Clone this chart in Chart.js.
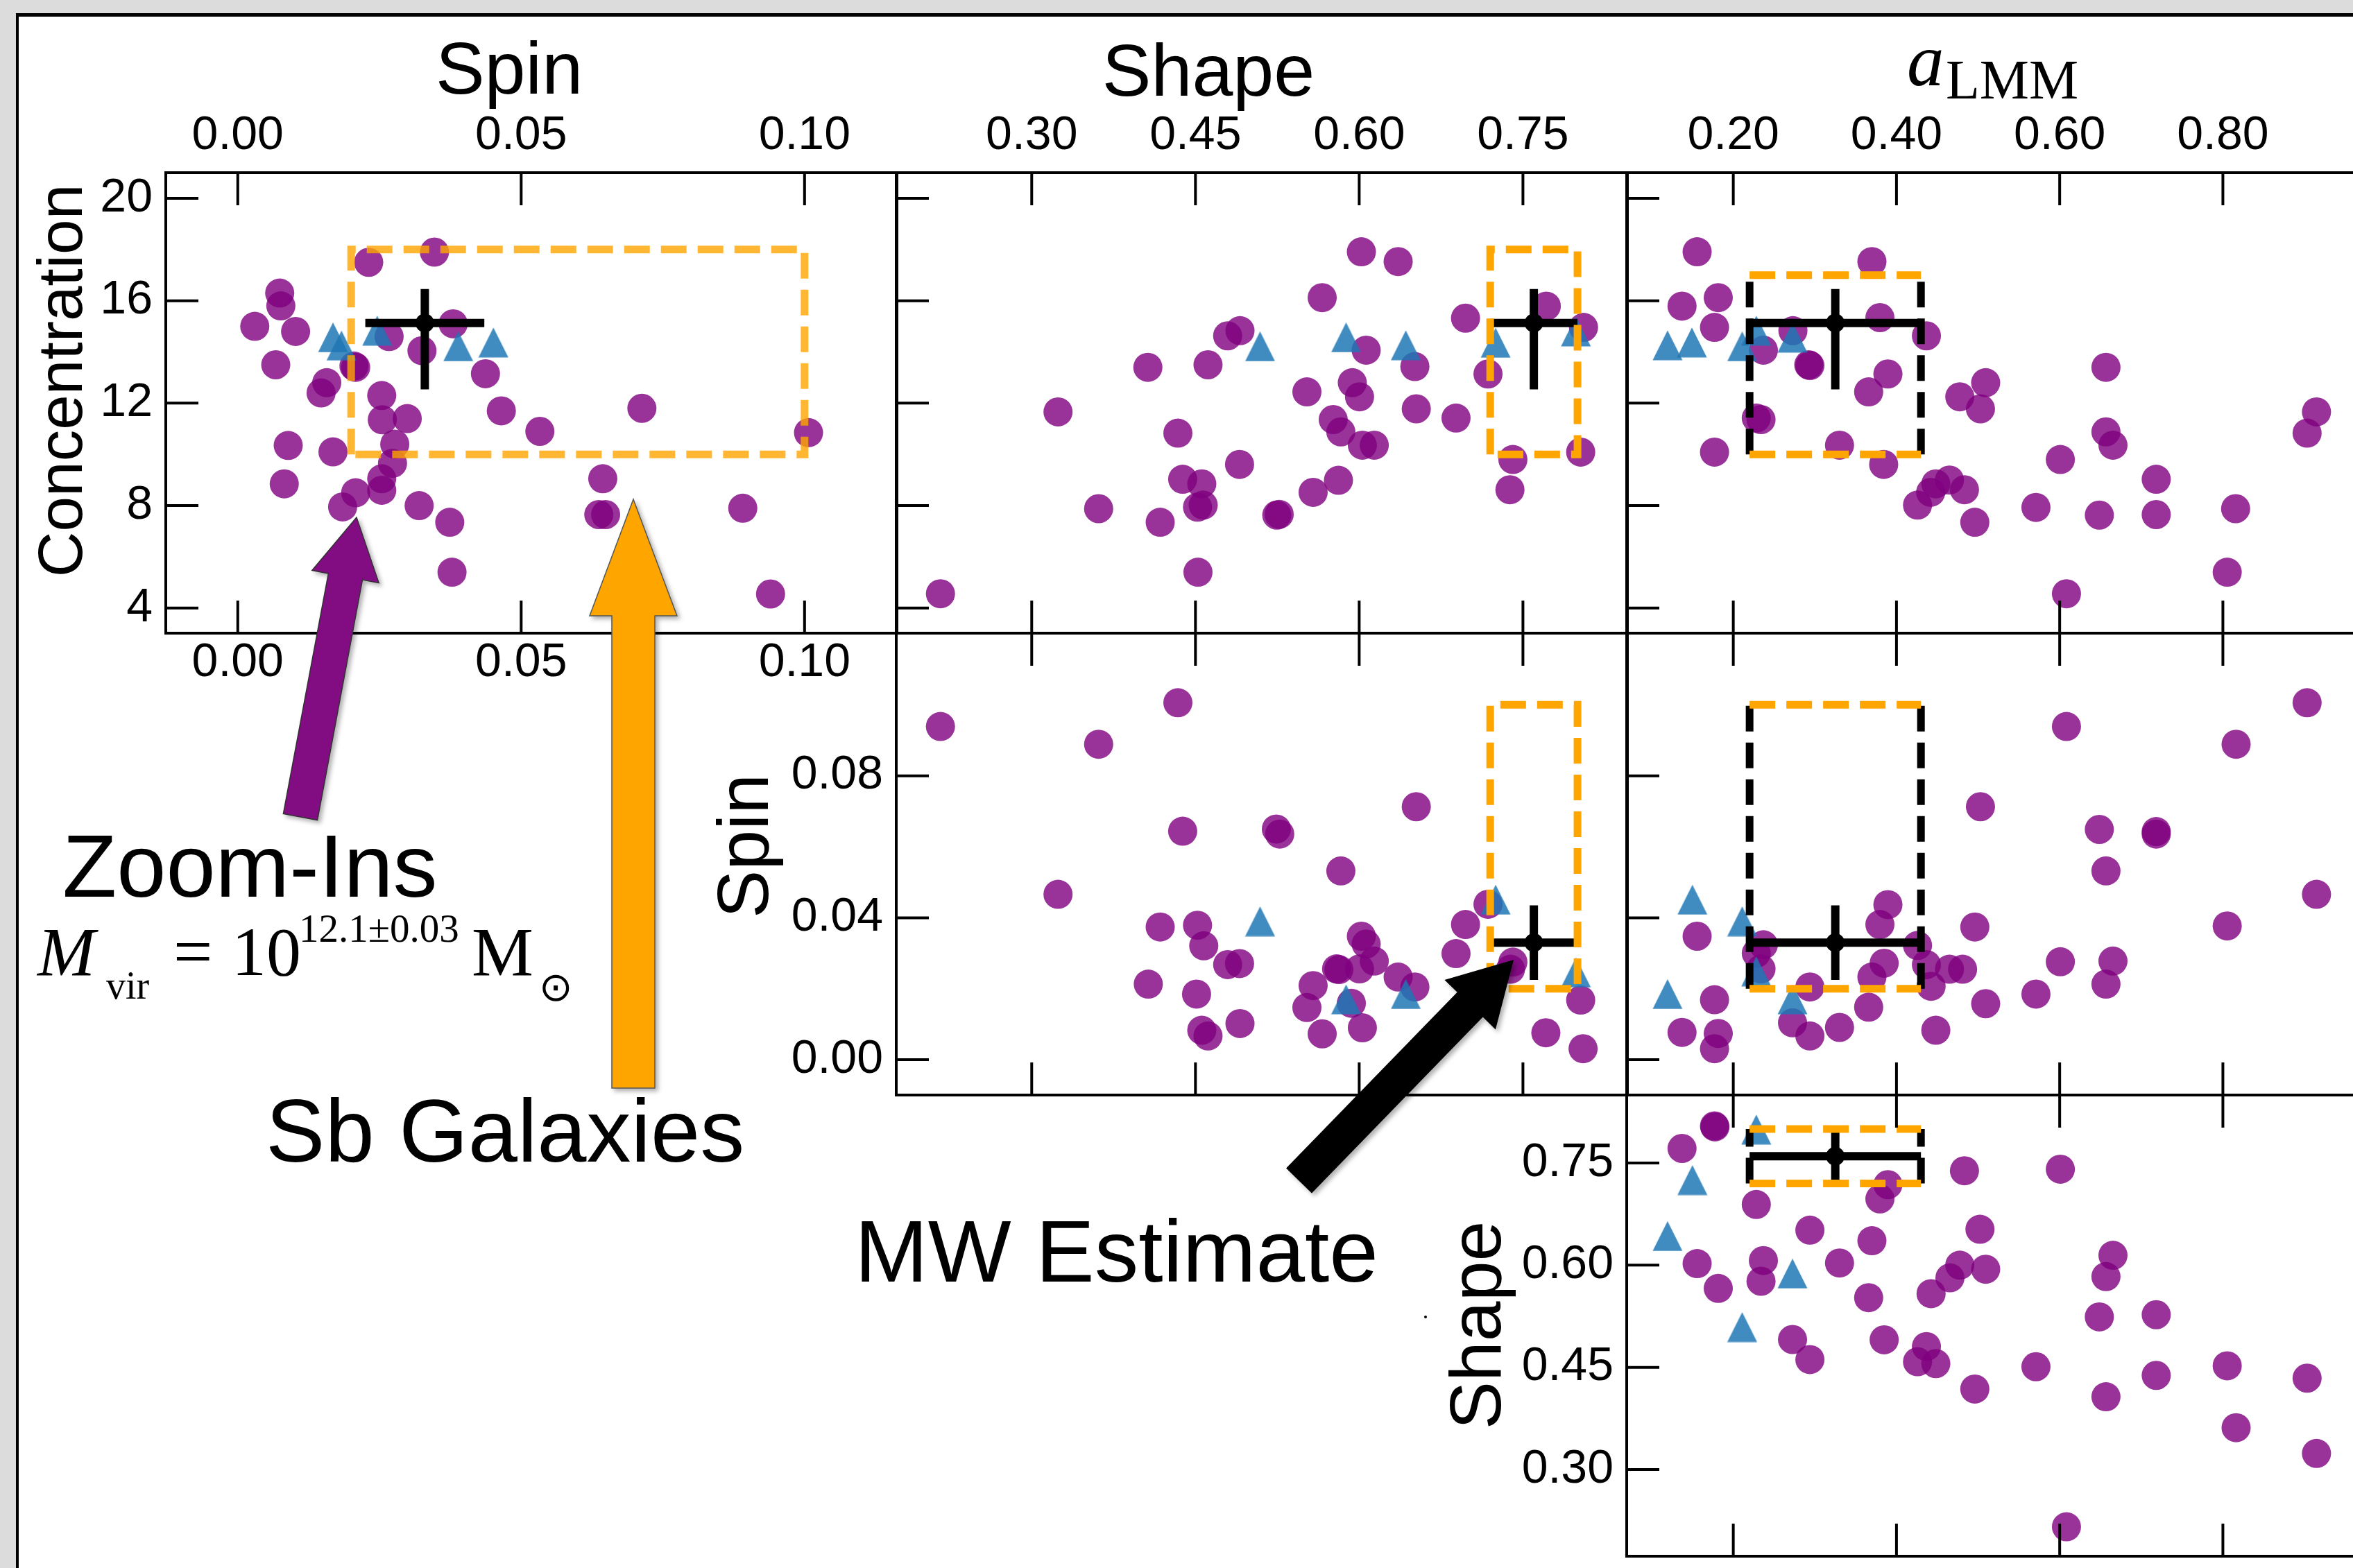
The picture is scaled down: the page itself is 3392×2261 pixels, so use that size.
<!DOCTYPE html>
<html>
<head>
<meta charset="utf-8">
<script src="https://cdn.jsdelivr.net/npm/chart.js"></script>
<style>
  html, body { margin: 0; padding: 0; }
  body { width: 3392px; height: 2261px; overflow: hidden; background: #dcdcdc; position: relative; }
  #sheet { position: absolute; left: 23px; top: 19px; width: 3400px; height: 2300px; background: #fff; border-left: 4px solid #000; border-top: 5px solid #000; }
  canvas { position: absolute; z-index: 1; }
  #overlay { position: absolute; left: 0; top: 0; z-index: 2; }
  #overlay text { font-family: 'Liberation Sans', Arial, sans-serif; fill: #000; }
  #overlay .serif { font-family: 'Liberation Serif', 'Times New Roman', serif; }
</style>
</head>
<body>
<div id="sheet"></div>
<svg id="overlay" width="3392" height="2261" xmlns="http://www.w3.org/2000/svg">
  <defs>
    <filter id="shadow" x="-30%" y="-30%" width="160%" height="160%">
      <feDropShadow dx="4" dy="4" stdDeviation="3" flood-color="#000" flood-opacity="0.3"/>
    </filter>
  </defs>
  <g id="arrows"></g>
  <!-- column titles -->
  <text x="734" y="135" font-size="106" text-anchor="middle">Spin</text>
  <text x="1742" y="138" font-size="106" text-anchor="middle">Shape</text>
  <text class="serif" x="2749" y="123" font-size="107" font-style="italic">a</text>
  <text class="serif" x="2805" y="142" font-size="80">LMM</text>
  <!-- row labels -->
  <text transform="translate(118,549) rotate(-90)" font-size="91" text-anchor="middle">Concentration</text>
  <text transform="translate(1107,1220) rotate(-90)" font-size="104" text-anchor="middle">Spin</text>
  <text transform="translate(2163,1911) rotate(-90)" font-size="104" text-anchor="middle">Shape</text>
  <!-- annotations -->
  <text x="90" y="1293" font-size="128">Zoom-Ins</text>
  <text class="serif" x="54" y="1406" font-size="100" font-style="italic">M</text>
  <text class="serif" x="153" y="1440" font-size="56">vir</text>
  <text class="serif" x="250" y="1406" font-size="100">=</text>
  <text class="serif" x="334" y="1406" font-size="100">10</text>
  <text class="serif" x="431" y="1358" font-size="57">12.1±0.03</text>
  <text class="serif" x="680" y="1406" font-size="100">M</text>
  <text x="777" y="1443" font-size="58" style="font-family:'DejaVu Sans'">⊙</text>
  <text x="383" y="1675" font-size="128">Sb Galaxies</text>
  <text x="1232" y="1848" font-size="127">MW Estimate</text>
  <circle cx="2055" cy="1899" r="2" fill="#000"/>
</svg>
<script>
// ---- data ----
// tick values
const spinTicks = [0.00, 0.05, 0.10]
const concTicks = [4, 8, 12, 16, 20]
const shapeTicks = [0.30, 0.45, 0.60, 0.75]
const almmTicks = [0.20, 0.40, 0.60, 0.80]
const spinYTicks = [0.00, 0.04, 0.08]
const shapeYTicks = [0.30, 0.45, 0.60, 0.75]

// Milky Way estimate: [value, error below, error above]
const mwSpin = [0.033, 0.0105, 0.0105]
const mwConc = [15.13, 2.59, 1.33]
const mwShape = [0.76, 0.04, 0.04]
const mwAlmm = [0.325, 0.105, 0.105]

// Sb galaxy ranges
const sbSpin = [0.02, 0.10]
const sbConc = [10, 18]
const sbShape = [0.72, 0.80]
const sbConcAlmm = [10, 17]

// zoom-in haloes (purple) and other haloes (blue), [x, y]
const concSpinZoom = [[0.0347,17.9],[0.0231,17.5],[0.0074,16.3],[0.0076,15.8],[0.0030,15.0],[0.0102,14.8],[0.0380,15.1],[0.0267,14.6],[0.0325,14.05],[0.0067,13.5],[0.0208,13.4],[0.0205,13.45],[0.0157,12.8],[0.0147,12.4],[0.0437,13.15],[0.0254,12.3],[0.0465,11.7],[0.0255,11.35],[0.0299,11.4],[0.0533,10.9],[0.0713,11.8],[0.1007,10.85],[0.0277,10.4],[0.0089,10.35],[0.0168,10.1],[0.0273,9.65],[0.0254,9.05],[0.0082,8.85],[0.0254,8.6],[0.0208,8.5],[0.0185,7.95],[0.0320,8.0],[0.0374,7.35],[0.0644,9.05],[0.0637,7.65],[0.0649,7.65],[0.0891,7.9],[0.0378,5.4],[0.0940,4.55]]
const concSpinOther = [[0.0168,14.57],[0.0183,14.25],[0.0246,14.83],[0.0389,14.22],[0.0451,14.37]]

const concShapeZoom = [[0.2164,4.56],[0.3241,11.66],[0.3613,7.88],[0.4064,13.4],[0.4177,7.35],[0.4339,10.83],[0.4383,9.03],[0.4558,8.85],[0.4519,7.94],[0.4571,8.02],[0.4523,5.4],[0.4615,13.5],[0.4795,14.63],[0.4908,14.83],[0.4904,9.61],[0.5245,7.63],[0.5267,7.66],[0.5521,12.44],[0.5578,8.52],[0.5661,16.12],[0.5762,11.36],[0.5832,10.88],[0.581,8.99],[0.5937,12.8],[0.6003,12.25],[0.6029,10.36],[0.6138,10.36],[0.602,17.91],[0.6357,17.53],[0.6064,14.07],[0.651,13.43],[0.6523,11.78],[0.6887,11.42],[0.6974,15.32],[0.718,13.14],[0.7408,9.8],[0.7381,8.62],[0.7714,15.79],[0.8055,14.96],[0.8029,10.09]]
const concShapeOther = [[0.5092,14.22],[0.588,14.57],[0.6427,14.26],[0.725,14.36],[0.7985,14.8]]

const concAlmmZoom = [[0.1557,17.91],[0.1372,15.79],[0.1816,16.12],[0.177,14.96],[0.177,10.09],[0.2369,14.07],[0.2731,14.83],[0.2939,13.47],[0.2925,13.5],[0.2282,11.42],[0.234,11.36],[0.3302,10.36],[0.3699,17.53],[0.3797,15.34],[0.3895,13.14],[0.3659,12.44],[0.3843,9.61],[0.4367,14.63],[0.4776,12.25],[0.5093,12.8],[0.5029,11.78],[0.4482,8.85],[0.4649,9.0],[0.4419,8.52],[0.4258,8.02],[0.4833,8.62],[0.496,7.35],[0.5709,7.93],[0.6008,9.8],[0.6567,13.4],[0.6567,10.88],[0.6653,10.36],[0.6486,7.63],[0.7183,9.03],[0.7183,7.65],[0.6083,4.56],[0.8156,7.88],[0.8053,5.4],[0.9147,11.66],[0.9032,10.83]]
const concAlmmOther = [[0.1194,14.26],[0.1493,14.37],[0.2109,14.22],[0.2282,14.83],[0.2726,14.56]]

const spinShapeZoom = [[0.2164,0.0939],[0.3613,0.0889],[0.4339,0.1006],[0.3241,0.0466],[0.4383,0.0644],[0.5241,0.065],[0.5272,0.0636],[0.6523,0.0713],[0.5832,0.0532],[0.4177,0.0374],[0.4519,0.0379],[0.4576,0.0321],[0.4795,0.0268],[0.4904,0.0271],[0.4068,0.0213],[0.451,0.0185],[0.4558,0.0083],[0.4615,0.0067],[0.4908,0.0102],[0.602,0.0348],[0.6064,0.0326],[0.5793,0.0256],[0.5814,0.0254],[0.6003,0.0256],[0.6138,0.0278],[0.5578,0.0209],[0.5521,0.0147],[0.5928,0.0159],[0.5661,0.0073],[0.6029,0.009],[0.6357,0.0233],[0.651,0.0205],[0.6974,0.0381],[0.6887,0.0299],[0.718,0.0438],[0.7408,0.0275],[0.7386,0.0255],[0.8029,0.0168],[0.771,0.0076],[0.8051,0.0031]]
const spinShapeOther = [[0.5092,0.039],[0.588,0.017],[0.6427,0.0185],[0.725,0.0451],[0.7985,0.0246]]

const spinAlmmZoom = [[0.6083,0.0939],[0.8162,0.0889],[0.9032,0.1006],[0.5029,0.0713],[0.6486,0.0649],[0.7183,0.0643],[0.7183,0.0636],[0.6567,0.0532],[0.9147,0.0466],[0.8053,0.0377],[0.3895,0.0437],[0.3797,0.0381],[0.496,0.0374],[0.1557,0.0348],[0.2369,0.0324],[0.2282,0.03],[0.234,0.0256],[0.4258,0.0322],[0.3849,0.0272],[0.3699,0.0233],[0.4367,0.0268],[0.4649,0.0255],[0.481,0.0255],[0.4424,0.0207],[0.6008,0.0276],[0.6653,0.0278],[0.6567,0.0213],[0.5709,0.0185],[0.5093,0.0158],[0.2939,0.0205],[0.3659,0.0148],[0.177,0.0169],[0.1372,0.0077],[0.1816,0.0074],[0.177,0.0031],[0.2726,0.0104],[0.2939,0.0067],[0.3302,0.0091],[0.4482,0.0083]]
const spinAlmmOther = [[0.1499,0.0451],[0.2109,0.039],[0.2282,0.0249],[0.1194,0.0185],[0.2726,0.017]]

const shapeAlmmZoom = [[0.177,0.8045],[0.1775,0.803],[0.1372,0.7714],[0.2282,0.6891],[0.3895,0.7182],[0.3797,0.6973],[0.4833,0.7386],[0.6008,0.7409],[0.2939,0.6514],[0.3699,0.6359],[0.5023,0.6527],[0.1557,0.6023],[0.2369,0.6068],[0.1816,0.5659],[0.234,0.5764],[0.3302,0.6032],[0.3659,0.5523],[0.4424,0.5582],[0.4776,0.6],[0.4655,0.5814],[0.5093,0.5941],[0.6653,0.6145],[0.6567,0.5832],[0.6486,0.5241],[0.7183,0.5273],[0.2726,0.4909],[0.2939,0.4614],[0.3849,0.4905],[0.4367,0.4805],[0.4258,0.4582],[0.4482,0.4555],[0.496,0.4182],[0.5709,0.4509],[0.7183,0.4382],[0.6567,0.4068],[0.8053,0.4523],[0.9032,0.4341],[0.8162,0.3614],[0.9147,0.3236],[0.6083,0.2159]]
const shapeAlmmOther = [[0.2282,0.7991],[0.1499,0.725],[0.1194,0.6427],[0.2726,0.5877],[0.2109,0.5091]]

// ---- axes ----
const axes = {
  spin:   { range: [-0.0127, 0.1163], ticks: spinTicks,   dec: 2, mw: mwSpin,  sb: sbSpin },
  conc:   { range: [3.02, 21.0],      ticks: concTicks,   dec: 0, mw: mwConc,  sb: sbConc },
  shape:  { range: [0.1759, 0.8457],  ticks: shapeTicks,  dec: 2, mw: mwShape, sb: sbShape },
  almm:   { range: [0.0694, 0.9654],  ticks: almmTicks,   dec: 2, mw: mwAlmm },
  spinY:  { range: [-0.00995, 0.1202], ticks: spinYTicks, dec: 2, mw: mwSpin,  sb: sbSpin },
  shapeY: { range: [0.1727, 0.8498],  ticks: shapeYTicks, dec: 2, mw: mwShape, sb: sbShape },
}

const PURPLE = 'rgba(128,0,128,0.8)'
const BLUE = 'rgba(31,119,180,0.85)'
const ORANGE = '#ffa500'
const DASH = [37, 16]
const DASH_W = 11
const BAR_W = 12
const TICK_LEN = 47
const PAD = { l: 220, t: 120, r: 8, b: 110 }

const panels = [
  { box: [239, 249, 1293, 913],   x: 'spin',  y: 'conc',   zoom: concSpinZoom,  other: concSpinOther,  labels: { top: true, bottom: true, left: true }, boxColor: 'rgba(255,165,0,0.8)' },
  { box: [1292, 249, 2346, 913],  x: 'shape', y: 'conc',   zoom: concShapeZoom, other: concShapeOther, labels: { top: true } },
  { box: [2345, 249, 3399, 913],  x: 'almm',  y: 'conc',   zoom: concAlmmZoom,  other: concAlmmOther,  labels: { top: true }, sbY: sbConcAlmm },
  { box: [1292, 913, 2346, 1579], x: 'shape', y: 'spinY',  zoom: spinShapeZoom, other: spinShapeOther, labels: { left: true } },
  { box: [2345, 913, 3399, 1579], x: 'almm',  y: 'spinY',  zoom: spinAlmmZoom,  other: spinAlmmOther,  labels: {} },
  { box: [2345, 1579, 3399, 2244], x: 'almm', y: 'shapeY', zoom: shapeAlmmZoom, other: shapeAlmmOther, labels: { left: true } },
]

// triangle marker like matplotlib '^'
const tri = document.createElement('canvas')
tri.width = 44; tri.height = 44
const tctx = tri.getContext('2d')
tctx.fillStyle = BLUE
tctx.beginPath()
tctx.moveTo(22, 0.5); tctx.lineTo(43.5, 43.5); tctx.lineTo(0.5, 43.5); tctx.closePath()
tctx.fill()

const pts = arr => arr.map(([x, y]) => ({ x, y }))

function line(data, color, width, dash) {
  return {
    data, showLine: true, borderColor: color, borderWidth: width, borderDash: dash || [],
    pointRadius: 0, pointHoverRadius: 0, fill: false, borderCapStyle: 'butt', borderJoinStyle: 'miter', clip: 0,
  }
}

function scaleOpts(axis, position, show, size, padding) {
  const horizontal = position === 'top' || position === 'bottom'
  return {
    type: 'linear', position, axis: horizontal ? 'x' : 'y',
    min: axis.range[0], max: axis.range[1],
    grid: { display: false, drawTicks: false },
    border: { display: false },
    afterBuildTicks: s => { s.ticks = axis.ticks.map(v => ({ value: v })) },
    ticks: {
      display: show, padding, autoSkip: false, maxRotation: 0, minRotation: 0, color: '#000',
      font: { family: "'Liberation Sans', Arial, sans-serif", size: 68 },
      callback: v => v.toFixed(axis.dec),
    },
    afterFit: s => {
      if (horizontal) s.height = size; else s.width = size
      s.paddingLeft = s.paddingRight = s.paddingTop = s.paddingBottom = 0
    },
  }
}

// frame and inward ticks, drawn over the data
const frameTicks = {
  id: 'frameTicks',
  afterDatasetsDraw(chart) {
    const { ctx, chartArea: a, scales } = chart
    ctx.save()
    ctx.strokeStyle = '#000'
    ctx.lineWidth = 4
    ctx.beginPath()
    scales.xt.ticks.forEach(t => {
      const px = scales.xt.getPixelForValue(t.value)
      ctx.moveTo(px, a.top); ctx.lineTo(px, a.top + TICK_LEN)
      ctx.moveTo(px, a.bottom); ctx.lineTo(px, a.bottom - TICK_LEN)
    })
    scales.y.ticks.forEach(t => {
      const py = scales.y.getPixelForValue(t.value)
      ctx.moveTo(a.left, py); ctx.lineTo(a.left + TICK_LEN, py)
    })
    ctx.stroke()
    ctx.strokeRect(a.left, a.top, a.right - a.left, a.bottom - a.top)
    ctx.restore()
  }
}

panels.forEach(p => {
  const X = axes[p.x], Y = axes[p.y]
  const [l, t, r, b] = p.box
  const cv = document.createElement('canvas')
  cv.width = r - l + PAD.l + PAD.r
  cv.height = b - t + PAD.t + PAD.b
  cv.style.left = (l - PAD.l) + 'px'
  cv.style.top = (t - PAD.t) + 'px'
  document.body.appendChild(cv)

  const [mx, mxLo, mxHi] = X.mw
  const [my, myLo, myHi] = Y.mw
  const ds = []
  ds.push({ data: pts(p.zoom), pointStyle: 'circle', pointRadius: 21, pointHoverRadius: 21, backgroundColor: PURPLE, borderWidth: 0, clip: 0 })
  ds.push({ data: pts(p.other), pointStyle: tri, pointRadius: 21, pointHoverRadius: 21, clip: 0 })
  ds.push(line([{ x: mx - mxLo, y: my }, { x: mx + mxHi, y: my }], '#000', BAR_W))
  ds.push(line([{ x: mx, y: my - myLo }, { x: mx, y: my + myHi }], '#000', BAR_W))
  if (p.x === 'almm') {
    const ys = p.sbY || Y.sb
    const x0 = mx - mxLo, x1 = mx + mxHi
    ds.push(line([{ x: x0, y: ys[0] }, { x: x0, y: ys[1] }], '#000', DASH_W, DASH))
    ds.push(line([{ x: x1, y: ys[0] }, { x: x1, y: ys[1] }], '#000', DASH_W, DASH))
    ds.push(line([{ x: x0, y: ys[1] }, { x: x1, y: ys[1] }], ORANGE, DASH_W, DASH))
    ds.push(line([{ x: x0, y: ys[0] }, { x: x1, y: ys[0] }], ORANGE, DASH_W, DASH))
  } else {
    const [x0, x1] = X.sb, [y0, y1] = Y.sb
    ds.push(line([{ x: x0, y: y0 }, { x: x0, y: y1 }, { x: x1, y: y1 }, { x: x1, y: y0 }, { x: x0, y: y0 }], p.boxColor || ORANGE, DASH_W, DASH))
  }
  ds.push({ data: [{ x: mx, y: my }], pointStyle: 'circle', pointRadius: 13.5, pointHoverRadius: 13.5, backgroundColor: '#000', borderWidth: 0, clip: 0 })
  // first dataset in the list is drawn at the bottom
  ds.forEach((d, i) => { d.order = ds.length - i; d.xAxisID = 'xt'; d.yAxisID = 'y' })

  new Chart(cv, {
    type: 'scatter',
    data: { datasets: ds },
    options: {
      responsive: false,
      animation: false,
      devicePixelRatio: 1,
      events: [],
      layout: { padding: { left: 0, top: 0, bottom: 0, right: PAD.r }, autoPadding: false },
      plugins: { legend: { display: false }, tooltip: { enabled: false } },
      scales: {
        xt: scaleOpts(X, 'top', !!p.labels.top, PAD.t, 12),
        xb: scaleOpts(X, 'bottom', !!p.labels.bottom, PAD.b, 2),
        y: scaleOpts(Y, 'left', !!p.labels.left, PAD.l, 19),
      },
    },
    plugins: [frameTicks],
  })
})

// ---- annotation arrows ----
const arrows = [
  { tail: [433, 1178], tip: [514, 746], head: 87, headHalf: 49, shaftHalf: 25, fill: '#820a82', stroke: '#333' },
  { tail: [913, 1569], tip: [913, 720], head: 168, headHalf: 63, shaftHalf: 31, fill: '#ffa500', stroke: '#555' },
  { tail: [1873, 1702], tip: [2181, 1385], head: 88, headHalf: 50, shaftHalf: 25, fill: '#000', stroke: '#000' },
]
const g = document.getElementById('arrows')
arrows.forEach(a => {
  const dx = a.tip[0] - a.tail[0], dy = a.tip[1] - a.tail[1]
  const L = Math.hypot(dx, dy), ux = dx / L, uy = dy / L, nx = -uy, ny = ux
  const bx = a.tip[0] - ux * a.head, by = a.tip[1] - uy * a.head
  const P = [
    [a.tail[0] + nx * a.shaftHalf, a.tail[1] + ny * a.shaftHalf],
    [bx + nx * a.shaftHalf, by + ny * a.shaftHalf],
    [bx + nx * a.headHalf, by + ny * a.headHalf],
    a.tip,
    [bx - nx * a.headHalf, by - ny * a.headHalf],
    [bx - nx * a.shaftHalf, by - ny * a.shaftHalf],
    [a.tail[0] - nx * a.shaftHalf, a.tail[1] - ny * a.shaftHalf],
  ]
  const poly = document.createElementNS('http://www.w3.org/2000/svg', 'polygon')
  poly.setAttribute('points', P.map(q => q[0].toFixed(1) + ',' + q[1].toFixed(1)).join(' '))
  poly.setAttribute('fill', a.fill)
  poly.setAttribute('stroke', a.stroke)
  poly.setAttribute('stroke-width', '1.5')
  poly.setAttribute('filter', 'url(#shadow)')
  g.appendChild(poly)
})
</script>
</body>
</html>
